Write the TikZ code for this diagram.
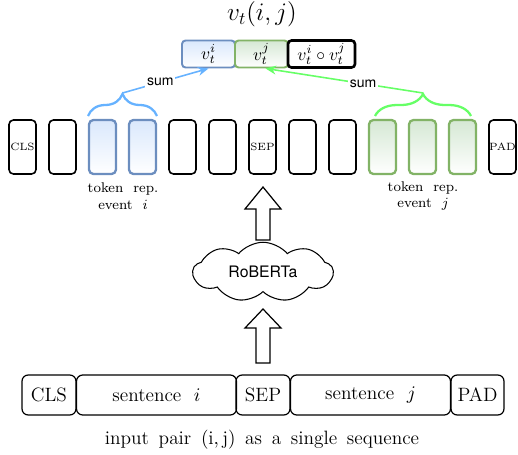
\documentclass[tikz,border=0pt]{standalone}
\usepackage{fontspec}
\newfontfamily\helv{TeX Gyre Heros}
\usepackage{tikz}
\usetikzlibrary{arrows.meta, shapes.symbols, decorations.pathreplacing}
\definecolor{tokblue}{HTML}{6C8EBF}
\definecolor{tokbluefill}{HTML}{DAE8FC}
\definecolor{tokgreen}{HTML}{82B366}
\definecolor{tokgreenfill}{HTML}{D5E8D4}
\definecolor{sumblue}{HTML}{66B2FF}
\definecolor{sumgreen}{HTML}{66FF66}
\tikzset{>={Stealth[length=6pt,width=5pt]}}
\tikzset{
  tok/.style={draw, line width=0.9pt, rounded corners=2.5pt, minimum width=0.54cm, minimum height=1.08cm, inner sep=0pt, font=\fontsize{6}{7}\selectfont},
  tokb/.style={tok, draw=tokblue, line width=1.3pt, top color=tokbluefill, bottom color=white},
  tokg/.style={tok, draw=tokgreen, line width=1.3pt, top color=tokgreenfill, bottom color=white},
  vec/.style={draw, line width=1.1pt, rounded corners=2pt, minimum height=0.54cm, inner sep=0pt},
  seg/.style={draw, line width=0.7pt, rounded corners=3.5pt, minimum height=0.8cm, inner sep=0pt, font=\fontsize{11}{13}\selectfont},
  sumbrace/.style={decorate, decoration={brace, amplitude=0.44cm}, line width=1.3pt},
  blockarrow/.style={draw, line width=0.7pt, fill=white},
  sumlabel/.style={fill=white, text=black, inner sep=1pt, font=\helv\footnotesize},
}

\begin{document}
\begin{tikzpicture}[x=0.02cm, y=-0.02cm]
			\useasboundingbox (0,0) rectangle (518,454);
			
			% pair vector
			\node (title) at (262,14) {\Large $v_t(i,j)$};
			\node[vec, draw=tokblue, top color=tokbluefill, bottom color=white, minimum width=1.06cm] (vi) at (208.5,54) {$v_t^i$};
			\node[vec, draw=tokgreen, top color=tokgreenfill, bottom color=white, minimum width=1.06cm] (vj) at (261.5,54) {$v_t^j$};
			\node[vec, line width=1.5pt, minimum width=1.34cm] (vij) at (321.5,54) {$v_t^i \circ v_t^j$};
			
			% token representations
			\node[tok] (cls) at (22.5,147) {CLS};
			\node[tok] (ta) at (62.5,147) {};
			\node[tokb] (bi1) at (102.5,147) {};
			\node[tokb] (bi2) at (142.5,147) {};
			\node[tok] (tb) at (182.5,147) {};
			\node[tok] (tc) at (222.5,147) {};
			\node[tok] (sep) at (262.5,147) {SEP};
			\node[tok] (td) at (302.5,147) {};
			\node[tok] (te) at (342.5,147) {};
			\node[tokg] (gj1) at (382.5,147) {};
			\node[tokg] (gj2) at (422.5,147) {};
			\node[tokg] (gj3) at (462.5,147) {};
			\node[tok] (pad) at (502.5,147) {PAD};
			
			\node[align=center, font=\footnotesize] (repi) at (123,196) {token\ \ rep.\\event\ \ $i$};
			\node[align=center, font=\footnotesize] (repj) at (423,196) {token\ \ rep.\\event\ \ $j$};
			
			% sums
			\draw[sumbrace, sumblue] (88,116) -- (157,116);
			\draw[sumbrace, sumgreen] (375,116) -- (471,116);
			\coordinate (bsum) at (122.5,93);
			\coordinate (gsum) at (423,93);
			\draw[->, sumblue, line width=0.9pt] (bsum) -- node[sumlabel, pos=0.44] {sum} (vi.south);
			\draw[->, sumgreen, line width=0.9pt] (gsum) -- node[sumlabel, pos=0.38] {sum} ([xshift=0.08cm]vj.south);
			
			% encoder
			\draw[blockarrow] (256,240) -- (256,209) -- (245,209) -- (263,187) -- (281,209) -- (270,209) -- (270,240) -- cycle;
			\node[cloud, draw, cloud puffs=9, cloud puff arc=100, aspect=2.6, minimum width=2.8cm, minimum height=0.95cm, line width=0.6pt, font=\helv\small] (roberta) at (263,272) {RoBERTa};
			\draw[blockarrow] (256,363) -- (256,328) -- (245,328) -- (263,309) -- (281,328) -- (270,328) -- (270,363) -- cycle;
			
			% input sequence
			\node[seg, minimum width=1.08cm] (incls) at (49,395) {CLS};
			\node[seg, minimum width=3.2cm] (senti) at (156.5,395) {sentence\ \ $i$};
			\node[seg, minimum width=1.08cm] (insep) at (263,395) {SEP};
			\node[seg, minimum width=3.2cm] (sentj) at (370.5,395) {sentence\ \ $j$};
			\node[seg, minimum width=1.06cm] (inpad) at (477.5,395) {PAD};
			\node[font=\fontsize{11}{13}\selectfont] (caption) at (262,440) {\spaceskip=5.5pt\relax input pair $(\mathrm{i},\mathrm{j})$ as a single sequence};
\end{tikzpicture}
\end{document}
